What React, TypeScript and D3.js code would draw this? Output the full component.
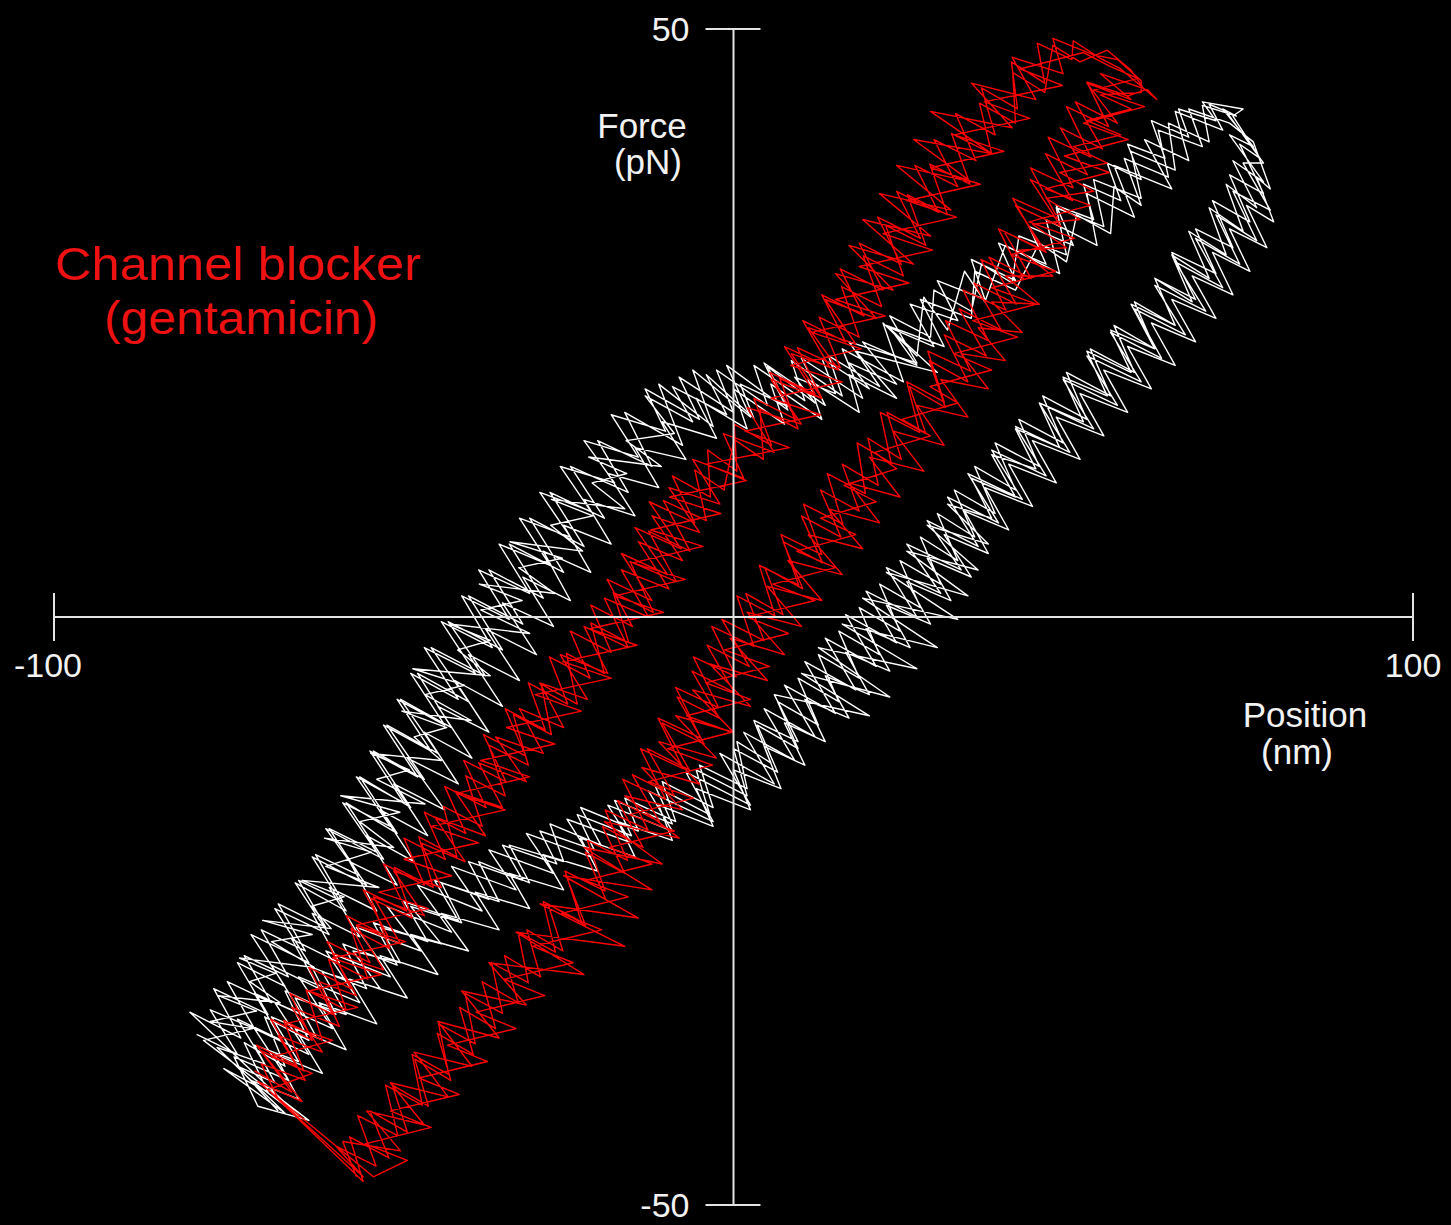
import React from 'react';
import * as d3 from 'd3';

type Pt = [number, number];

const W = 1451;
const H = 1225;

// axis extents and labelled ticks
const xDomain: [number, number] = [-100, 100];
const yDomain: [number, number] = [-50, 50];
const xTicks = [-100, 100];
const yTicks = [-50, 50];

// control trace (white), four stimulus cycles; "up" = upper-left branch, "down" = lower-right branch (listed bottom -> top)
const whiteUp1: Pt[] = [
  [-79,-35.5],[-73,-37.2],[-77,-33.4],[-70.5,-35],[-74.5,-31],[-68,-32.8],[-72,-28.8],[-65.5,-30.6],[-69.5,-26.6],[-63,-28.4],
  [-67,-24.4],[-60,-26.4],[-64,-22.4],[-57.5,-24.2],[-61.5,-20.2],[-55,-22],[-59.5,-18],[-52.5,-20],[-57.5,-15.8],[-50.5,-17.8],
  [-55.5,-13.6],[-48.5,-15.8],[-53.5,-11.4],[-46.5,-13.6],[-51.5,-9.2],[-44.5,-11.4],[-49.5,-7],[-42.5,-9.2],[-47.5,-4.8],[-40.5,-7],
  [-45.5,-2.6],[-38,-4.8],[-43,-0.4],[-35.5,-2.6],[-40,1.8],[-33,-0.2],[-37.5,4],[-30,2],[-34.5,6.2],[-27,4.4],
  [-31.5,8.4],[-24,6.8],[-28.5,10.6],[-21,9],[-25.5,12.8],[-17.5,11.4],[-22,15],[-14,13.6],[-18,17.2],[-10,15.8],
  [-13,19.4],[-5,16.8],[-8,20.4],[0,17.4],[-2.5,21],[5,18],[3,21.4],[10.5,18.4],[8.5,21.8],[16,18.8],
  [14,22.2],[21.5,19.6],[17,23.4],[27,21.6],[23,25.6],[29,23.8],[29.5,27.8],[35,26],[36.5,30],[41,28.4],
  [42,32.4],[49,30.8],[47.5,34.8],[54.5,33.2],[53,37.2],[60,35.6],[58.5,39.6],[65,38],[64,42],[70,40.4],
  [69,43.5],[74,42.6],
];
const whiteDown1: Pt[] = [
  [-66,-42.2],[-75,-38.4],[-68.5,-40.4],[-72,-36.2],[-66,-38.2],[-69,-34],[-62.5,-36],[-66,-31.8],[-58.5,-33.8],[-62,-29.8],
  [-54,-31.6],[-57.5,-27.8],[-49.5,-29.6],[-53,-26],[-45,-27.6],[-48.5,-24.2],[-40.5,-25.8],[-44,-22.4],[-36,-24],[-39,-20.8],
  [-31,-22.4],[-34,-19.4],[-26,-21],[-28.5,-18.2],[-20.5,-19.8],[-23,-16.8],[-15,-18.6],[-17.5,-15.6],[-9,-17.6],[-11.5,-14.4],
  [-3.5,-16.8],[-5.5,-13],[2,-15.2],[0,-11.2],[6.5,-13.2],[3.5,-9.2],[9.5,-11.2],[6.5,-7.2],[12.5,-9.2],[9.5,-5.2],
  [15.5,-7.2],[12.5,-3.2],[18.5,-5.2],[15.5,-1.2],[21.5,-3.2],[18.5,0.8],[24.5,-1.2],[21.5,2.8],[27.5,0.8],[24.5,4.8],
  [30.5,2.8],[27.5,6.8],[33,4.8],[30,8.8],[35.5,6.8],[32.5,10.8],[38.5,8.8],[35.5,12.8],[41.5,10.8],[38.5,14.8],
  [45,12.8],[42,16.8],[48.5,14.8],[45.5,18.8],[52,16.8],[49,20.8],[55.5,18.8],[52.5,22.8],[59,20.8],[56,24.8],
  [62,22.8],[59,26.8],[65,24.8],[62,28.8],[67.5,26.8],[64.5,30.8],[70,28.8],[67,32.8],[72.5,30.8],[70,34.8],
  [75,32.8],[72.5,36.8],[77,34.8],[73.5,38.8],[78,37],[73,41],[76.5,40],[72,43.2],
];
const whiteUp2: Pt[] = [
  [-76,-36.6],[-69,-38],[-73,-34.2],[-66.5,-36],[-70.5,-32],[-63.5,-33.8],[-68,-29.6],[-61,-31.6],[-65,-27.4],[-58,-29.4],
  [-62,-25.2],[-55,-27.2],[-59.5,-23],[-52.5,-25],[-56.5,-20.8],[-49.5,-22.8],[-54,-18.6],[-47,-20.8],[-52,-16.4],[-45,-18.6],
  [-50,-14.2],[-42.5,-16.4],[-48,-12],[-40.5,-14.2],[-45.5,-9.8],[-38.5,-12],[-43.5,-7.6],[-36,-9.8],[-41,-5.4],[-34,-7.6],
  [-39,-3.2],[-31.5,-5.4],[-36.5,-1],[-29,-3.2],[-34,1.2],[-26.5,-0.8],[-31,3.4],[-24,1.4],[-28,5.6],[-21,3.8],
  [-25,7.8],[-18,6.2],[-22,10],[-14.5,8.6],[-18.5,12.2],[-11,11],[-14.5,14.4],[-7,13.4],[-10.5,16.6],[-2.5,15.2],
  [-5.5,18.6],[2,16],[0,19.4],[7.5,16.4],[5.5,19.8],[13,16.8],[11,20.2],[18.5,17.4],[17,20.6],[24,18.6],
  [18,22.6],[30,20.8],[22.5,24.8],[31,23],[27.5,27],[35,25.4],[35.5,29.4],[41.5,27.8],[45,31.8],[49,30.2],
  [50.5,34.2],[55.5,32.6],[56,36.6],[60,35],[57.5,39],[64,37.4],[62.5,41.4],[69,40],[67,43.2],[73,42],
];
const whiteDown2: Pt[] = [
  [-64,-42.4],[-71,-39.4],[-64,-41],[-67.5,-37.2],[-60.5,-38.8],[-64.5,-35],[-57,-36.8],[-61,-32.8],[-52.5,-34.6],[-56.5,-30.8],
  [-48,-32.4],[-52,-28.8],[-43.5,-30.4],[-47.5,-27],[-39,-28.4],[-43,-25.2],[-34.5,-26.6],[-38,-23.4],[-30,-24.8],[-33,-21.8],
  [-25,-23.2],[-28,-20.2],[-20,-21.6],[-22.5,-18.8],[-14.5,-20.4],[-17,-17.4],[-9,-19],[-11,-16],[-3,-17.8],[-5.5,-14.6],
  [2.5,-16.4],[0,-13],[7,-14.6],[4.5,-11],[10.5,-12.6],[7.5,-9],[13.5,-10.6],[10.5,-7],[17,-8.6],[13.5,-5],
  [20,-6.6],[16.5,-3],[23,-4.6],[19.5,-1],[26,-2.6],[22.5,1],[29,-0.6],[25.5,3],[32,1.4],[28.5,5],
  [35,3.4],[31,7],[37.5,5.4],[34,9],[40.5,7.4],[37,11],[44,9.4],[40.5,13],[47.5,11.4],[44,15],
  [51,13.4],[47.5,17],[54.5,15.4],[51,19],[58,17.4],[54.5,21],[61.5,19.4],[58,23],[65,21.4],[61.5,25],
  [68,23.4],[64.5,27],[71,25.4],[67.5,29],[73.5,27.4],[70.5,31],[76,29.4],[73,33],[78.5,31.4],[75.5,35],
  [79.5,33.6],[77,37.4],[79,36.4],[76.5,40.4],
];
const whiteUp3: Pt[] = [
  [-80,-33.6],[-72.5,-35.8],[-76.5,-31.6],[-68.5,-33.8],[-73,-29.4],[-66,-31.4],[-71,-27],[-62.5,-29.4],[-67.5,-24.8],[-59.5,-27],
  [-64.5,-22.6],[-57,-25],[-62,-20.4],[-54,-22.8],[-60,-18],[-51.5,-20.6],[-57,-15.8],[-49.5,-18.4],[-55,-13.6],[-47.5,-16.2],
  [-53,-11.4],[-45.5,-13.8],[-51,-9.2],[-43.5,-11.6],[-49,-7],[-41.5,-9.4],[-46.5,-4.8],[-39,-7.2],[-44.5,-2.6],[-36.5,-5],
  [-42,-0.4],[-34,-2.8],[-39,1.8],[-31,-0.6],[-36,4],[-28,1.6],[-33,6.2],[-25,3.8],[-30,8.4],[-22,6],
  [-27,10.6],[-19,8.4],[-24,12.8],[-15.5,10.6],[-20,15],[-12,12.8],[-16,17.4],[-7.5,14.6],[-11,19.8],[-3,16.2],
  [-6,21],[2.5,17],[-1,21.4],[8,17.6],[4.5,21.6],[13.5,18],[10,22],[19,18.6],[16,22.8],[25,20],
  [22,25],[27,22.2],[28,27.2],[31.5,24.4],[34,29.4],[37,26.8],[40,31.6],[48,29.2],[46,33.8],[53.5,31.6],
  [52,36],[59,34],[56,38.4],[64.5,36.4],[60.5,40.6],[67,38.8],[65,43],[72,41.4],[70,43.6],
];
const whiteDown3: Pt[] = [
  [-62.5,-42.8],[-70,-41.6],[-73.5,-37.4],[-65.5,-39.4],[-70.5,-35],[-62.5,-37.2],[-67.5,-32.8],[-59,-35],[-64,-30.6],[-55,-32.8],
  [-60,-28.4],[-50.5,-30.6],[-55.5,-26.4],[-46,-28.4],[-51,-24.6],[-41.5,-26.8],[-46.5,-22.8],[-37,-25],[-41.5,-21.2],[-32,-23.2],
  [-36,-19.8],[-26.5,-21.8],[-30.5,-18.4],[-21,-20.4],[-24.5,-17.2],[-15,-19.2],[-18.5,-16],[-9,-18.2],[-12.5,-14.8],[-3,-17.4],
  [-7,-13.2],[2.5,-16],[-2,-11.6],[6,-14.2],[1.5,-9.8],[9,-12.2],[4.5,-7.8],[12,-10.2],[7.5,-5.8],[15,-8.2],
  [10.5,-3.8],[18,-6.2],[13.5,-1.8],[21,-4.2],[16.5,0.2],[24,-2.2],[19.5,2.2],[27,0],[22.5,4.2],[30.5,2],
  [25.5,6.2],[33.5,4],[28.5,8.2],[36,6],[31.5,10.2],[39,8],[34.5,12.2],[42.5,10],[38,14.2],[46,12],
  [41.5,16.2],[49.5,14],[45,18.2],[53,16],[48.5,20.2],[56.5,18],[52,22.2],[60,20],[55.5,24.2],[63,22],
  [59,26.2],[66.5,24],[62,28.2],[69.5,26],[65,30.2],[72,28],[68,32.2],[74.5,30],[71,34.2],[77,32],
  [73.5,36.2],[79,34.6],[75,38.6],[78,38.6],[72.5,43],
];
const whiteUp4: Pt[] = [
  [-78,-36],[-70.8,-35],[-77,-34.4],[-70.2,-33.5],[-75.8,-32.2],[-66.7,-32.8],[-71.2,-31],[-67.4,-30.3],[-72.7,-29],[-61.7,-29.8],
  [-68,-27.6],[-62,-27],[-69.3,-25.8],[-59.2,-26.5],[-62.1,-24.6],[-57.3,-23.8],[-63.5,-22.4],[-52.2,-23],[-60,-21.2],[-53.3,-20],
  [-60.2,-18.8],[-50,-19.6],[-55,-17.4],[-49.1,-16.6],[-57.8,-15.2],[-45.4,-15.9],[-52.5,-13.8],[-47.7,-13],[-53.4,-11.6],[-43,-12.2],
  [-47,-10.2],[-42.2,-9.4],[-48.8,-8],[-38.6,-8.8],[-45.4,-6.6],[-39.6,-5.8],[-47.2,-4.4],[-35.8,-5],[-40.6,-2.8],[-35.8,-2],
  [-41.8,-0.6],[-30,-1.4],[-37.2,0.6],[-31.1,1.4],[-37.4,2.8],[-26.3,2],[-31.6,4.2],[-25.2,5],[-32.9,6.4],[-22.2,5.6],
  [-26.9,7.8],[-20.7,8.6],[-26.8,10],[-16,9.2],[-20.8,11.4],[-15.7,12.2],[-21.3,13.6],[-10.6,12.8],[-15.8,15],[-8.7,15.6],
  [-13,18.8],[-6,16.6],[-9,19.6],[-1,17.2],[-4,20.6],[3,16.9],[1,19.8],[8,17.9],[5,21.3],[12,18.2],
  [9,20.4],[15,19],[13,22],[20,19.4],[17,21.6],[24,19.8],[19,23.4],[27,21.4],[23,24.6],[29.5,23],
  [26,26.6],[33,25.2],[30,28.6],[37,27],[35,30.4],[41.5,28.6],[39,31.8],[46,30],[43.5,33.2],[50,31.6],
  [47.5,35],[53,33.8],[51.5,36.8],[57,35.4],[55,38.6],[60,37.2],[58,40.2],[63.5,39],[61.5,42.2],[67,40.8],
  [65.5,43.2],[71,42.2],[69,43.8],[75,43.2],
];
const whiteDown4: Pt[] = [
  [-67,-42],[-73,-38.2],[-67.5,-39.6],[-70.5,-36.4],[-64,-37.8],[-68,-34],[-61.5,-35.6],[-64.5,-32.4],[-57,-33.8],[-60.5,-30.2],
  [-52,-31.6],[-56,-28.4],[-49,-29.4],[-52,-26.4],[-43,-27.8],[-47.5,-24.6],[-40,-26],[-43,-22.6],[-34.5,-24.2],[-37.5,-20.8],
  [-30,-22.6],[-33,-19.4],[-25,-20.8],[-27,-17.6],[-19.5,-19.4],[-22.5,-16.2],[-14,-18.2],[-16,-15.4],[-8.5,-17.4],[-10.5,-14],
  [-3,-16.2],[-5,-12.6],[2,-14.6],[0.5,-10.6],[5.5,-12.4],[3,-8.8],[9.5,-10.6],[6,-6.6],[20,-8.4],[10,-4.8],
  [23,-6.8],[12.5,-2.6],[27,-4.4],[16,-0.6],[30,-2.6],[19,1.6],[33,-0.2],[22.5,3.8],[34.5,1.8],[25.5,5.6],
  [36,4],[28.5,7.8],[37.5,6.2],[31.5,9.6],[38,8.4],[35,11.8],[41.5,10.2],[38,13.8],[44.5,12.6],[41.5,16],
  [48,14.4],[45,18.2],[51.5,16.6],[48.5,20.4],[55,18.8],[52,22.6],[58.5,20.8],[55.5,24.4],[62,22.8],[58.5,26.6],
  [65,24.8],[62,28.8],[68,27],[64.5,31],[71,29.2],[68,33],[73.5,31.4],[70.5,35.4],[76,33.6],[73,37.6],
  [78,36],[74.5,40.2],[77.5,39],[73.5,42.6],
];

// gentamicin trace (red), four cycles
const redUp1: Pt[] = [
  [-70.5,-38.6],[-65,-40.4],[-70.2,-36.4],[-64.2,-38.2],[-68.1,-34.2],[-62,-36],[-65.3,-32],[-59,-33.8],[-62.5,-29.8],[-56.3,-31.6],
  [-59.8,-27.6],[-53.5,-29.4],[-57,-25.4],[-50.8,-27.2],[-54.5,-23.2],[-48.1,-25],[-51.5,-21],[-45.5,-22.8],[-48.5,-18.8],[-42.4,-20.6],
  [-45.5,-16.6],[-39.4,-18.4],[-42.5,-14.4],[-36.4,-16.2],[-39.7,-12.2],[-33.5,-14],[-36.8,-10],[-30.6,-11.8],[-33.6,-7.8],[-27.7,-9.6],
  [-30.2,-5.6],[-24.4,-7.4],[-27.1,-3.4],[-21.1,-5.2],[-24,-1.2],[-18,-3],[-21,1],[-14.9,-0.8],[-18.6,3.2],[-12,1.4],
  [-16.5,5.4],[-9.7,3.6],[-14.5,7.6],[-7.7,5.8],[-12.4,9.8],[-5.7,8],[-9,12],[-3.4,10.2],[-3.8,14.2],[0.5,12.4],
  [0.1,16.4],[5.6,14.6],[3,18.6],[9.2,16.8],[5.3,20.8],[12,19],[7.5,23],[14.2,21.2],[10.2,25.2],[16.5,23.4],
  [13,27.4],[19.2,25.6],[15.7,29.6],[22,27.8],[18.5,31.8],[24.7,30],[21.2,34],[27.5,32.2],[24,36.2],[30.2,34.4],
  [26.7,38.4],[33,36.6],[29.5,40.6],[35.7,38.8],[32.7,42.8],[38.5,41],[36.5,45],[41.8,43.2],[40.9,47.2],[45.8,45.4],
  [44.7,48.8],[49.8,47.4],[50,49],[54,47.5],[57,46.6],
];
const redDown1: Pt[] = [
  [-54.5,-48],[-56.5,-44.2],[-50.7,-46],[-53.5,-42],[-48,-43.8],[-50.2,-39.8],[-44.9,-41.6],[-46.9,-37.6],[-41.6,-39.4],[-43.6,-35.4],
  [-38.3,-37.2],[-40.3,-33.2],[-35,-35],[-37,-31],[-31.7,-32.8],[-33.7,-28.8],[-28.4,-30.6],[-30.4,-26.6],[-25.1,-28.4],[-27.3,-24.4],
  [-21.8,-26.2],[-24.5,-22.2],[-18.8,-24],[-21.8,-20],[-16,-21.8],[-19.3,-17.8],[-13.3,-19.6],[-17.1,-15.6],[-10.9,-17.4],[-14.9,-13.4],
  [-8.7,-15.2],[-12.7,-11.2],[-6.5,-13],[-10.5,-9],[-4.3,-10.8],[-8.3,-6.8],[-2.1,-8.6],[-6.1,-4.6],[0.1,-6.4],[-3.9,-2.4],
  [2.3,-4.2],[-1.7,-0.2],[4.5,-2],[1.8,2],[7.3,0.2],[4.6,4.2],[10.2,2.4],[7.3,6.4],[13.1,4.6],[10,8.6],
  [15.8,6.8],[12.8,10.8],[18.5,9],[16,13],[21.3,11.2],[19.8,15.2],[24.7,13.4],[22.6,17.4],[28.3,15.6],[25.9,19.6],
  [31.2,17.8],[28.8,21.8],[34.5,20],[31,24],[37.2,22.2],[33.2,26.2],[39.4,24.4],[35.4,28.4],[41.6,26.6],[37.6,30.6],
  [43.8,28.8],[39.8,32.8],[46,31],[41.5,35],[48.2,33.2],[43.7,37.2],[49.9,35.4],[45.9,39.4],[52.1,37.6],[48.1,41.6],
  [54.3,39.8],[50.3,43.8],[56.5,42],[52,45.4],[58.5,44],[54,46.2],[61,44.8],[62.3,44],
];
const redUp2: Pt[] = [
  [-68.5,-40.2],[-62,-38.8],[-68,-37.4],[-59,-36],[-66.1,-34.6],[-55.3,-33.2],[-62.5,-31.8],[-51.8,-30.4],[-59,-29],[-48.3,-27.6],
  [-55.5,-26.2],[-44.9,-24.8],[-52.2,-23.4],[-41.5,-22],[-48.5,-20.6],[-37.5,-19.2],[-44.5,-17.8],[-33.6,-16.4],[-40.8,-15],[-30,-13.6],
  [-37.2,-12.2],[-26.3,-10.8],[-33.4,-9.4],[-22.4,-8],[-29.2,-6.6],[-18,-5.2],[-25.1,-3.8],[-14.2,-2.4],[-21.2,-1],[-10.3,0.4],
  [-17.5,1.8],[-7.1,3.2],[-14.8,4.6],[-4.5,6],[-12.2,7.4],[-1.9,8.8],[-9.4,10.2],[1.9,11.6],[-4,13],[8.2,14.4],
  [1.7,15.8],[12.8,17.2],[5.5,18.6],[16,20],[8.4,21.4],[18.8,22.8],[11.5,24.2],[22.3,25.6],[15,27],[25.8,28.4],
  [18.5,29.8],[29.3,31.2],[22,32.6],[32.8,34],[25.5,35.4],[36.3,36.8],[29,38.2],[39.8,39.6],[32.5,41],[43.6,42.4],
  [36.9,43.8],[48.4,45.2],[42.2,46.6],[51.5,48],[55.5,46.8],[59.5,45.8],
];
const redDown2: Pt[] = [
  [-53,-47.6],[-48,-46.2],[-54.2,-44.8],[-44.5,-43.4],[-50.5,-42],[-40.4,-40.6],[-46.3,-39.2],[-36.2,-37.8],[-42.1,-36.4],[-32,-35],
  [-37.9,-33.6],[-27.8,-32.2],[-33.7,-30.8],[-23.6,-29.4],[-29.5,-28],[-19.4,-26.6],[-25.3,-25.2],[-15.5,-23.8],[-21.8,-22.4],[-12,-21],
  [-18.3,-19.6],[-8.7,-18.2],[-15.3,-16.8],[-5.9,-15.4],[-12.5,-14],[-3.1,-12.6],[-9.7,-11.2],[-0.3,-9.8],[-6.9,-8.4],[2.5,-7],
  [-4.1,-5.6],[5.3,-4.2],[-1.3,-2.8],[8.1,-1.4],[2,0],[12,1.4],[5.8,2.8],[15,4.2],[9.3,5.6],[18,7],
  [12.8,8.4],[21,9.8],[16.3,11.2],[24,12.6],[20.8,14],[29,15.4],[24.8,16.8],[33,18.2],[28.9,19.6],[38,21],
  [32.4,22.4],[41.8,23.8],[35.2,25.2],[44.6,26.6],[38,28],[47.4,29.4],[40.8,30.8],[50.2,32.2],[43.5,33.6],[52.5,35],
  [45.9,36.4],[55.3,37.8],[48.7,39.2],[58.1,40.6],[51.5,42],[60.5,43.4],[53,44.8],[59.5,45.8],
];
const redUp3: Pt[] = [
  [-70,-39.5],[-63.5,-41.2],[-69.5,-36.9],[-63.2,-38.6],[-66.2,-34.3],[-60.5,-36],[-62.9,-31.7],[-57,-33.4],[-59.6,-29.1],[-53.8,-30.8],
  [-56.3,-26.5],[-50.6,-28.2],[-53.4,-23.9],[-47.3,-25.6],[-49.9,-21.3],[-44.2,-23],[-46.3,-18.7],[-40.7,-20.4],[-42.7,-16.1],[-37,-17.8],
  [-39.4,-13.5],[-33.6,-15.2],[-36,-10.9],[-30.2,-12.6],[-32.4,-8.3],[-26.8,-10],[-28.3,-5.7],[-23,-7.4],[-24.6,-3.1],[-19,-4.8],
  [-21,-0.5],[-15.4,-2.2],[-17.7,2.1],[-11.8,0.4],[-15.2,4.7],[-8.4,3],[-12.5,7.3],[-6.4,5.6],[-10.3,9.9],[-4,8.2],
  [-5.7,12.5],[-1.4,10.8],[0.1,15.1],[4.4,13.4],[3.9,17.7],[9.5,16],[6.8,20.3],[13,18.6],[9.4,22.9],[15.7,21.2],
  [12.6,25.5],[18.5,23.8],[15.9,28.1],[21.8,26.4],[19.1,30.7],[25,29],[22.4,33.3],[28.3,31.6],[25.6,35.9],[31.5,34.2],
  [28.9,38.5],[34.8,36.8],[32.1,41.1],[38,39.4],[36.2,43.7],[41.5,42],[41.1,46.3],[45.8,44.6],[47,48.6],[51,47.2],
  [55,48.2],[58.5,46.5],
];
const redDown3: Pt[] = [
  [-54.5,-47.6],[-58.5,-45],[-52.6,-46.7],[-55.3,-42.4],[-49.4,-44.1],[-51.2,-39.8],[-45.8,-41.5],[-47.3,-37.2],[-41.9,-38.9],[-43.4,-34.6],
  [-38,-36.3],[-39.5,-32],[-34,-33.7],[-35.6,-29.4],[-30.2,-31.1],[-31.7,-26.8],[-26.2,-28.5],[-28,-24.2],[-22.4,-25.9],[-24.8,-21.6],
  [-18.9,-23.3],[-21.5,-19],[-15.6,-20.7],[-18.9,-16.4],[-12.6,-18.1],[-16.3,-13.8],[-10,-15.5],[-13.7,-11.2],[-7.4,-12.9],[-11.1,-8.6],
  [-4.8,-10.3],[-8.5,-6],[-2.2,-7.7],[-5.9,-3.4],[0.4,-5.1],[-3.2,-0.8],[3,-2.5],[0.5,1.8],[6.1,0.1],[3.8,4.4],
  [9.6,2.7],[7,7],[13,5.3],[10.3,9.6],[16.1,7.9],[13.8,12.2],[19.4,10.5],[18.2,14.8],[23.2,13.1],[21.6,17.4],
  [27.4,15.7],[25.5,20],[31,18.3],[28.6,22.6],[34.9,20.9],[31.2,25.2],[37.5,23.5],[33.8,27.8],[40.1,26.1],[36.4,30.4],
  [42.7,28.7],[39,33],[45.3,31.3],[41.1,35.6],[47.7,33.9],[43.7,38.2],[50,36.5],[46.3,40.8],[52.6,39.1],[49,43.4],
  [55.2,41.7],[52,45.5],[58,44.3],[60.5,44.8],
];
const redUp4: Pt[] = [
  [-67,-41],[-69.5,-38],[-63,-39.4],[-67,-35.6],[-60.5,-37],[-65,-33.2],[-58,-34.8],[-61,-31],[-55.5,-32.2],[-59,-28.6],
  [-51.5,-30],[-55.5,-26.2],[-49,-27.8],[-53,-23.8],[-45.5,-25.4],[-50,-21.6],[-43,-23],[-46,-19.2],[-39.5,-20.8],[-44,-17],
  [-36.5,-18.6],[-41,-14.8],[-34,-16.2],[-37.5,-12.4],[-30.5,-14],[-35,-10.2],[-28,-11.6],[-31.5,-7.8],[-25,-9.4],[-28.5,-5.6],
  [-21.5,-7],[-25.5,-3.2],[-18.5,-4.8],[-22,-0.8],[-15.5,-2.6],[-19,1.6],[-12.5,0],[-16.5,4],[-9.5,2.4],[-14,6.4],
  [-7.5,4.8],[-12,8.6],[-5,7.2],[-9.5,11],[-2,9.6],[-6,13.4],[1.5,11.8],[-1.5,15.6],[6,14],[2,17.8],
  [10,16.4],[5.5,20.2],[13,18.6],[8.5,22.4],[15.5,21],[11,24.6],[18,23.2],[13.5,27],[21,25.4],[15,29.2],
  [23.5,27.8],[17,31.6],[26.5,30],[19,33.8],[29,32.4],[21.5,36],[32,34.6],[24,38.4],[35,37],[26.5,40.6],
  [38,39.4],[29,43],[41,41.6],[35,45.4],[44.5,44],[41,47.6],[48.5,46.2],[47,49.2],[53,47.8],[56.5,47.4],
  [60,45.6],
];
const redDown4: Pt[] = [
  [-55.5,-47.6],[-57.5,-44.6],[-49,-45.4],[-54,-42],[-45.5,-43.2],[-50.5,-39.6],[-42,-40.8],[-47,-37],[-38.5,-38.2],[-43.5,-34.4],
  [-34.5,-35.8],[-40,-31.8],[-30.5,-33],[-36,-29.4],[-22,-30.4],[-32,-26.8],[-16,-28],[-28.5,-24.4],[-14,-25.6],[-25,-22],
  [-12,-23.2],[-22,-19.6],[-10.5,-21],[-19,-17.4],[-8,-18.8],[-16,-15.2],[-7.5,-16.4],[-13.5,-12.8],[-5,-14.2],[-11,-10.6],
  [-2.5,-12],[-8.5,-8.4],[0,-9.8],[-6,-6.2],[2.5,-7.6],[-3.5,-4],[5,-5.4],[-0.5,-1.8],[7.5,-3.2],[2,0.4],
  [10,-0.8],[5,2.6],[13,1.4],[8,4.8],[16,3.6],[11,7],[19,5.8],[14,9.2],[21.5,8],[17,11.4],
  [24.5,10.2],[20,13.6],[28,12.4],[23.5,15.8],[31,14.6],[27,18],[34.5,17],[30.5,20.2],[37.5,19.4],[33.5,22.4],
  [40,21.8],[36,24.6],[42.5,24.2],[38,26.8],[45,26.6],[40,29],[47,29],[42,31.2],[49,31.4],[44,33.4],
  [51,33.8],[46,35.6],[53,36.2],[48,37.8],[55,38.6],[50,40],[57,41],[52,42.2],[58.5,43.2],[54,44.4],
  [60,44.6],
];

// one cycle = rising branch followed by the falling branch
const cycle = (up: Pt[], down: Pt[]): Pt[] => up.concat(down.slice().reverse());

const whiteTrace: Pt[] = [
  ...cycle(whiteUp1, whiteDown1),
  ...cycle(whiteUp2, whiteDown2),
  ...cycle(whiteUp3, whiteDown3),
  ...cycle(whiteUp4, whiteDown4),
];
const redTrace: Pt[] = [
  ...cycle(redUp1, redDown1),
  ...cycle(redUp2, redDown2),
  ...cycle(redUp3, redDown3),
  ...cycle(redUp4, redDown4),
];

const App: React.FC = () => {
  const x = d3.scaleLinear().domain(xDomain).range([54, 1413]);
  const y = d3.scaleLinear().domain(yDomain).range([1205, 29]);

  const line = d3.line<Pt>()
    .x(d => x(d[0]))
    .y(d => y(d[1]));

  const x0 = x(0);
  const y0 = y(0);
  const axisColor = '#e4e4e4';
  const font = "'Liberation Sans', Arial, sans-serif";

  return (
    <div style={{ position: 'fixed', left: 0, top: 0, width: W, height: H, background: '#000' }}>
      <svg width={W} height={H} style={{ display: 'block' }} fontFamily={font}>
        <rect width={W} height={H} fill="#000" />

        <path d={line(whiteTrace) ?? ''} fill="none" stroke="#ffffff" strokeWidth={1.4} strokeLinejoin="round" />
        <path d={line(redTrace) ?? ''} fill="none" stroke="#ff0000" strokeWidth={1.4} strokeLinejoin="round" />

        {/* axes crossing at the origin */}
        <g stroke={axisColor} strokeWidth={2}>
          <line x1={x(xDomain[0])} x2={x(xDomain[1])} y1={y0} y2={y0} />
          <line x1={x0} x2={x0} y1={y(yDomain[0])} y2={y(yDomain[1])} />
          {xTicks.map(v => (
            <line key={`xt${v}`} x1={x(v)} x2={x(v)} y1={y0 - 24} y2={y0 + 24} />
          ))}
          {yTicks.map(v => (
            <line key={`yt${v}`} x1={x0 - 28} x2={x0 + 27} y1={y(v)} y2={y(v)} />
          ))}
        </g>

        <g fill="#f2f2f2" fontSize={34}>
          {xTicks.map(v => (
            <text key={`xl${v}`} x={x(v)} dx={v < 0 ? -6 : 0} y={y0 + 60} textAnchor="middle">{v}</text>
          ))}
          {yTicks.map(v => (
            <text key={`yl${v}`} x={x0 - 44} y={y(v) + 12} textAnchor="end">{v}</text>
          ))}
        </g>

        <g fill="#f2f2f2" fontSize={35} textAnchor="middle">
          <text x={642} y={138}>Force</text>
          <text x={648} y={174}>(pN)</text>
          <text x={1305} y={727}>Position</text>
          <text x={1297} y={764}>(nm)</text>
        </g>

        <g fill="#ee1111" fontSize={46}>
          <text x={55} y={280} textLength={366} lengthAdjust="spacingAndGlyphs">Channel blocker</text>
          <text x={104} y={334} textLength={274} lengthAdjust="spacingAndGlyphs">(gentamicin)</text>
        </g>
      </svg>
    </div>
  );
};

export default App;
